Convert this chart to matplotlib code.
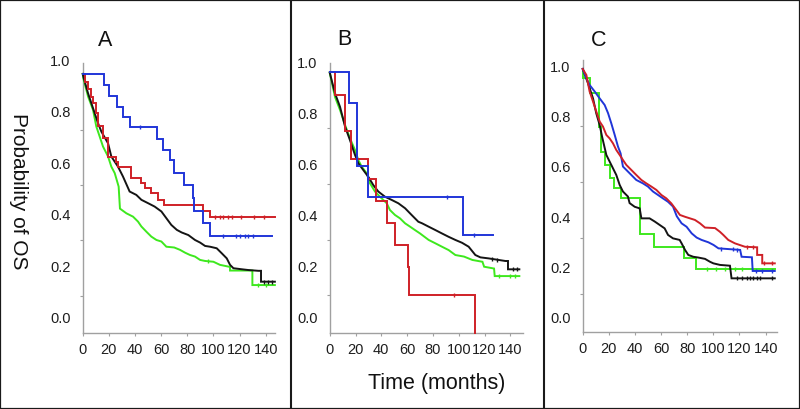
import numpy as np
import matplotlib
matplotlib.use("Agg")
import matplotlib.pyplot as plt
from matplotlib import font_manager as fm
from matplotlib.transforms import ScaledTranslation
from matplotlib.patches import Rectangle
from matplotlib.lines import Line2D

# ---------------- data (months, survival probability) ----------------
x_ticks = [0, 20, 40, 60, 80, 100, 120, 140]
y_labels = [0.0, 0.2, 0.4, 0.6, 0.8, 1.0]
y_tickmarks = [0.144, 0.357, 0.571, 0.785]

# Panel A
A_blue_t = [0, 16.4, 20.5, 26, 31, 36, 56.6, 61.7, 66.8, 69.5, 77.5, 84, 85.2, 92, 97.4, 144.6]
A_blue_s = [1.0, 0.958, 0.915, 0.874, 0.835, 0.794, 0.749, 0.707, 0.668, 0.617, 0.571, 0.52, 0.472, 0.424, 0.376, 0.376]
A_blue_c = [44, 107.6, 117.3, 120.4, 124.2, 126.7, 130.6]
A_red_t = [0, 2, 4, 6, 8, 10, 11.7, 15.5, 19.4, 25.7, 27, 37, 44.9, 47.4, 52.5, 57.6, 62, 92.3, 97.4, 147]
A_red_s = [1.0, 0.97, 0.94, 0.91, 0.887, 0.85, 0.797, 0.752, 0.681, 0.66, 0.642, 0.597, 0.578, 0.559, 0.539, 0.513, 0.494, 0.472, 0.447, 0.447]
A_red_c = [101, 105, 107, 111, 114, 121, 131, 139]
A_black_t = [0, 1, 4.1, 9.2, 11.7, 14.3, 19.4, 21.9, 27, 30.8, 35.9, 41, 44.9, 50, 55, 60.2, 64, 67.8, 72, 75.7,
             80.8, 85.9, 89.8, 93.6, 97.4, 102.5, 106.3, 110.2, 112.7, 115.3, 121.6, 126.7, 134.4, 136.4, 136.4, 147]
A_black_s = [1.0, 0.98, 0.925, 0.848, 0.81, 0.777, 0.732, 0.681, 0.642, 0.604, 0.546, 0.533, 0.514, 0.501, 0.488, 0.469,
             0.443, 0.417, 0.398, 0.388, 0.378, 0.359, 0.349, 0.336, 0.333, 0.327, 0.308, 0.288, 0.263, 0.25, 0.246,
             0.243, 0.24, 0.24, 0.198, 0.198]
A_black_c = [139, 142, 145]
A_green_t = [0, 0.5, 4.1, 7.9, 10.4, 13, 15.5, 19.4, 21.9, 24.5, 27.5, 28.5, 33.4, 38.5, 42.3, 44.9, 48.7, 52.5, 56.4,
             60.2, 64, 70, 74.4, 78.3, 82.1, 85.9, 89.8, 93.6, 100, 105, 112.7, 112.7, 129.8, 129.8, 147]
A_green_s = [1.0, 0.983, 0.913, 0.861, 0.797, 0.758, 0.72, 0.681, 0.642, 0.617, 0.565, 0.48, 0.462, 0.449, 0.43, 0.411,
             0.391, 0.372, 0.359, 0.353, 0.333, 0.33, 0.321, 0.31, 0.301, 0.295, 0.282, 0.278, 0.275, 0.263, 0.255,
             0.241, 0.241, 0.185, 0.185]
A_green_c = [96, 134, 140]

# Panel B
B_blue_t = [0, 15, 21.5, 29.3, 103.6, 126.8]
B_blue_s = [1.0, 0.881, 0.641, 0.521, 0.374, 0.374]
B_blue_c = [91, 112]
B_red_t = [0, 4.1, 12.2, 16.5, 29.6, 35.8, 44.5, 50.6, 60.7, 61.6, 112.8]
B_red_s = [1.0, 0.915, 0.775, 0.668, 0.59, 0.506, 0.42, 0.337, 0.253, 0.146, 0.0]
B_red_c = [96]
B_black_t = [0, 4.1, 8, 11.9, 15.7, 19.6, 22.2, 26, 29.9, 33.8, 37.7, 42.9, 48, 53.2, 58.4, 63.5, 68.7, 71.6, 76.7,
             81.9, 87, 92.2, 97.4, 102.6, 107.7, 112.9, 116.8, 123.2, 131, 136.2, 138.2, 138.2, 147]
B_black_s = [1.0, 0.92, 0.868, 0.792, 0.74, 0.683, 0.651, 0.625, 0.599, 0.567, 0.542, 0.522, 0.51, 0.497, 0.478, 0.452,
             0.426, 0.42, 0.407, 0.394, 0.381, 0.368, 0.356, 0.345, 0.33, 0.298, 0.289, 0.285, 0.279, 0.275, 0.275,
             0.243, 0.243]
B_black_c = [126, 130, 142, 145]
B_green_t = [0, 4.1, 8, 11.9, 15.7, 19.6, 22.2, 24.8, 28.7, 31.2, 35.1, 39, 44.2, 46.7, 50.6, 54.5, 58.4, 62.3, 66.1,
             70, 76.7, 81.9, 87, 92.2, 97.4, 104.1, 110.6, 118.4, 119.7, 127.4, 127.9, 147]
B_green_s = [1.0, 0.906, 0.856, 0.798, 0.747, 0.702, 0.663, 0.638, 0.612, 0.574, 0.542, 0.522, 0.497, 0.471, 0.452,
             0.439, 0.42, 0.407, 0.394, 0.381, 0.356, 0.343, 0.33, 0.317, 0.298, 0.292, 0.279, 0.272, 0.253, 0.246,
             0.217, 0.217]
B_green_c = [131, 140, 144]

# Panel C
C_red_t = [0, 2.8, 5.3, 7.9, 10.4, 13, 15.5, 18.1, 20.6, 23.2, 25.7, 28.3, 30.8, 33.4, 37.2, 41, 44.9, 48.7, 52.5,
           56.4, 60.2, 64, 67.8, 71.6, 74.4, 78.3, 85.9, 89.8, 93.6, 101.3, 105, 107.6, 111.4, 116.5, 124.2, 133.5,
           133.5, 137.4, 137.4, 147]
C_red_s = [1.0, 0.977, 0.914, 0.876, 0.838, 0.8, 0.781, 0.749, 0.736, 0.717, 0.692, 0.673, 0.654, 0.635, 0.616, 0.597,
           0.578, 0.565, 0.553, 0.54, 0.521, 0.508, 0.489, 0.464, 0.445, 0.438, 0.426, 0.413, 0.397, 0.395, 0.381,
           0.369, 0.35, 0.337, 0.324, 0.322, 0.293, 0.293, 0.261, 0.261]
C_red_c = [126, 130, 139, 144.6]
C_blue_t = [0, 2.8, 5.3, 9.2, 13, 16.8, 19.4, 21.9, 24.5, 27, 29, 30.8, 33.4, 37.2, 41, 46.1, 49.9, 53.8, 57.6, 61.4,
            65.3, 69.1, 72, 75.7, 79.5, 83.4, 87.2, 91, 96.2, 100.1, 103.9, 120.5, 121.6, 129.5, 130.1, 147]
C_blue_s = [1.0, 0.965, 0.939, 0.914, 0.888, 0.863, 0.832, 0.793, 0.749, 0.705, 0.679, 0.629, 0.616, 0.597, 0.578,
            0.565, 0.553, 0.534, 0.521, 0.508, 0.495, 0.477, 0.44, 0.413, 0.4, 0.375, 0.359, 0.35, 0.341, 0.331,
            0.318, 0.312, 0.286, 0.284, 0.232, 0.232]
C_blue_c = [106, 115, 118, 133, 137, 144.6]
C_black_t = [0, 4.1, 7.9, 10.4, 13, 14.8, 16.3, 18.1, 20.6, 23.2, 25.7, 28.3, 30.8, 34.6, 35.9, 39.8, 43.6, 44.9,
             51.2, 55.1, 58.9, 62.7, 65.3, 69.1, 74.2, 75.7, 78.3, 80.8, 84.6, 88.5, 93.6, 97.4, 100, 105.1, 112.7,
             113.9, 147]
C_black_s = [1.0, 0.945, 0.888, 0.831, 0.787, 0.743, 0.711, 0.673, 0.648, 0.622, 0.597, 0.559, 0.534, 0.515, 0.49,
             0.476, 0.47, 0.432, 0.432, 0.42, 0.407, 0.394, 0.369, 0.356, 0.35, 0.337, 0.312, 0.293, 0.286, 0.283,
             0.278, 0.267, 0.261, 0.255, 0.252, 0.204, 0.204]
C_black_c = [117.8, 121.6, 125.4, 128, 130.6, 133.1, 135.7, 144.6]
C_green_t = [0, 0.4, 5.3, 12.2, 14.3, 16.8, 20.6, 23.9, 29, 43.8, 54.5, 77.5, 86.7, 147]
C_green_s = [1.0, 0.965, 0.907, 0.781, 0.686, 0.635, 0.584, 0.546, 0.508, 0.371, 0.324, 0.283, 0.238, 0.238]
C_green_c = [95, 102, 109, 116.6, 121.6]

# ---------------- styling ----------------
RED, BLUE, GREEN, BLACK = "#cf2027", "#2035d8", "#3ee81e", "#141414"
AX_COL = "#a0a0a0"
names = {f.name for f in fm.fontManager.ttflist}
NARROW = "Liberation Sans Narrow" if "Liberation Sans Narrow" in names else "Liberation Sans"
TICK_FS = 12.6 if NARROW == "Liberation Sans Narrow" else 10.5
REG = ["Liberation Sans", "DejaVu Sans"]

fig = plt.figure(figsize=(8.0, 4.09), dpi=100)
W, H = 800.0, 409.0

def px_axes(left, right, top, bottom):
    return [left / W, 1 - bottom / H, (right - left) / W, (bottom - top) / H]

panels = [
    dict(rect=px_axes(82.7, 275.0, 63, 333.0), xmax=147.1, ymax=1.042, letter="A", lpos=(105, 40.5),
         lab0=13.0, labstep=51.4,
         series=[(A_green_t, A_green_s, A_green_c, GREEN, "lin"),
                 (A_black_t, A_black_s, A_black_c, BLACK, "lin"),
                 (A_red_t, A_red_s, A_red_c, RED, "step"),
                 (A_blue_t, A_blue_s, A_blue_c, BLUE, "step")]),
    dict(rect=px_axes(329.7, 522.7, 63, 332.5), xmax=149.6, ymax=1.0365, letter="B", lpos=(344, 39.5),
         lab0=12.5, labstep=51.0,
         series=[(B_green_t, B_green_s, B_green_c, GREEN, "lin"),
                 (B_black_t, B_black_s, B_black_c, BLACK, "lin"),
                 (B_red_t, B_red_s, B_red_c, RED, "step"),
                 (B_blue_t, B_blue_s, B_blue_c, BLUE, "step")]),
    dict(rect=px_axes(582.7, 777.0, 60, 332.0), xmax=148.7, ymax=1.034, letter="C", lpos=(599, 40),
         lab0=12.0, labstep=50.2,
         series=[(C_green_t, C_green_s, C_green_c, GREEN, "step"),
                 (C_black_t, C_black_s, C_black_c, BLACK, "lin"),
                 (C_blue_t, C_blue_s, C_blue_c, BLUE, "lin"),
                 (C_red_t, C_red_s, C_red_c, RED, "lin")]),
]

def value_at(t, s, tc, kind):
    t = np.asarray(t, float); s = np.asarray(s, float)
    if kind == "step":
        idx = np.searchsorted(t, tc, side="right") - 1
        return s[np.clip(idx, 0, len(s) - 1)]
    return np.interp(tc, t, s)

for p in panels:
    ax = fig.add_axes(p["rect"])
    ax.set_xlim(0, p["xmax"])
    ax.set_ylim(0, p["ymax"])
    for side in ("top", "right"):
        ax.spines[side].set_visible(False)
    for side in ("left", "bottom"):
        ax.spines[side].set_color(AX_COL)
        ax.spines[side].set_linewidth(1.0)
    for t, s, c, col, kind in p["series"]:
        ds = "steps-post" if kind == "step" else "default"
        ax.plot(t, s, color=col, lw=1.4, drawstyle=ds, solid_joinstyle="miter", clip_on=False, zorder=3)
        tc = np.asarray(c, float)
        ax.plot(tc, value_at(t, s, tc, kind), ls="none", marker="|", ms=3.5, mew=1.0, color=col,
                clip_on=False, zorder=3)
    ax.set_xticks(x_ticks)
    ax.set_xticklabels([str(v) for v in x_ticks], fontfamily=NARROW, fontsize=TICK_FS, color="#1e1e1e")
    ax.tick_params(axis="x", length=2.5, width=0.8, color=AX_COL, pad=5.0, direction="out")
    ax.set_yticks([])
    ax.set_yticks(y_tickmarks, minor=True)
    ax.tick_params(axis="y", which="minor", length=2.5, width=0.8, color=AX_COL, direction="out")
    # y labels drawn at their own (slightly offset) pixel positions, as in the source figure
    for v in y_labels:
        dy = p["lab0"] + 1.0 + v / 0.2 * p["labstep"]
        off = ScaledTranslation(-12 / 100, dy / 100, fig.dpi_scale_trans)
        ax.text(0, 0, f"{v:.1f}", transform=ax.transAxes + off, ha="right", va="center",
                fontfamily=NARROW, fontsize=TICK_FS, color="#1e1e1e", clip_on=False)
    fig.text(p["lpos"][0] / W, 1 - p["lpos"][1] / H, p["letter"], ha="center", va="center",
             fontsize=15.5, family=REG, color="#111111")

fig.text(18 / W, 1 - 191.7 / H, "Probability of OS", rotation=270, ha="center", va="center",
         fontsize=15, family=REG, color="#111111")
fig.text(436.5 / W, 1 - 383 / H, "Time (months)", ha="center", va="center",
         fontsize=15.5, family=REG, color="#111111")

# frame and panel dividers
fig.add_artist(Rectangle((0, 0), 1, 1, transform=fig.transFigure, fill=False, lw=1.6, ec="#1a1a1a"))
for xd in (291.0, 544.0):
    fig.add_artist(Line2D([xd / W, xd / W], [0, 1], transform=fig.transFigure, lw=1.5, color="#1a1a1a"))

fig.savefig("out.png", dpi=100, facecolor="white")
